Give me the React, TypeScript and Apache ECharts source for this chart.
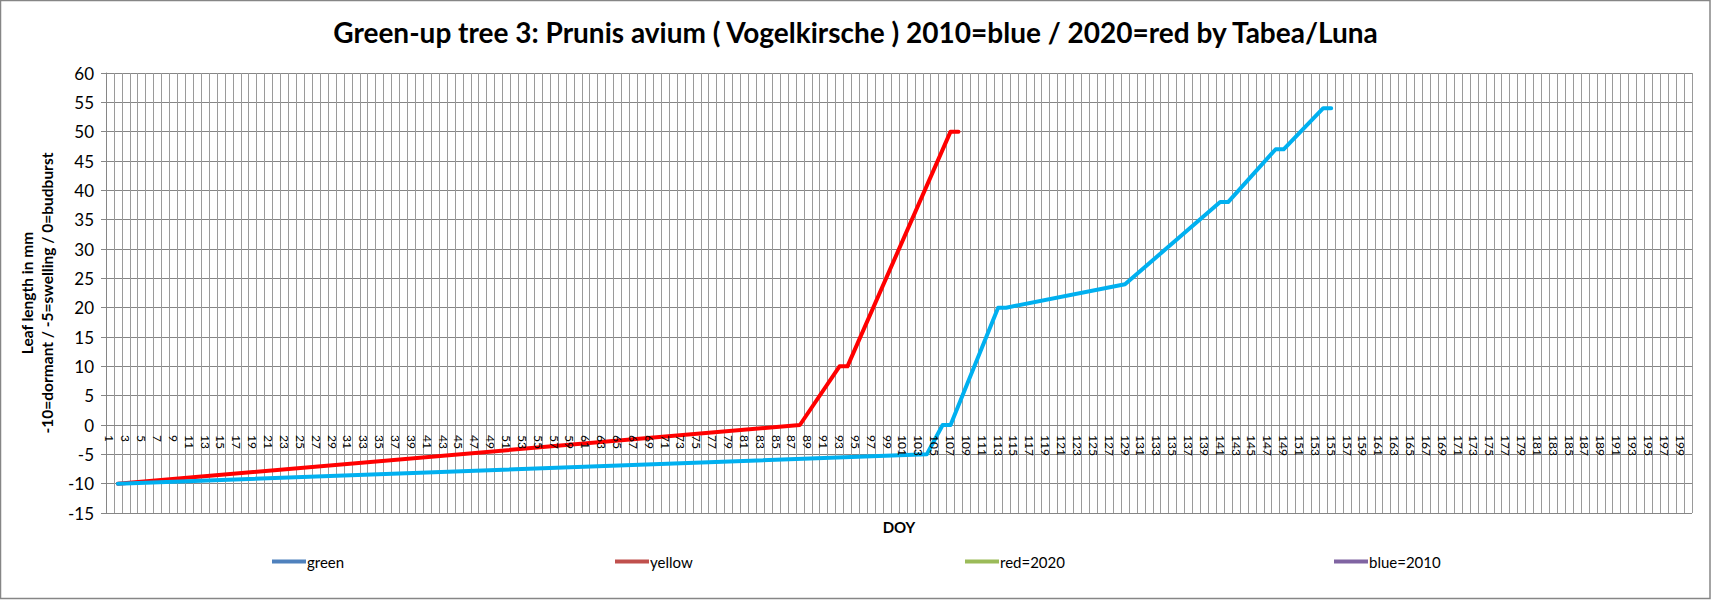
import React, { useEffect, useRef } from "react";
import * as echarts from "echarts";

const FONT = "Lato, 'Liberation Sans', sans-serif";
const NARROW_FONT = "'Liberation Sans Narrow', Lato, sans-serif";

const titleText =
  "Green-up tree 3: Prunis avium ( Vogelkirsche ) 2010=blue / 2020=red by Tabea/Luna";
const yAxisName = "Leaf length in mm\n-10=dormant / -5=swelling / 0=budburst";
const xAxisName = "DOY";

// DOY categories 1..200
const dayCount = 200;
const days: string[] = Array.from({ length: dayCount }, (_, i) => String(i + 1));

// 2020 (red)
const redDays = [2, 88, 93, 94, 107, 108];
const redValues = [-10, 0, 10, 10, 50, 50];

// 2010 (blue)
const blueDays = [2, 104, 106, 107, 113, 114, 129, 141, 142, 148, 149, 154, 155];
const blueValues = [-10, -5, 0, 0, 20, 20, 24, 38, 38, 47, 47, 54, 54];

const yMin = -15;
const yMax = 60;
const yStep = 5;

const legendNames = ["green", "yellow", "red=2020", "blue=2010"];
const legendColors = ["#4F81BD", "#C0504D", "#9BBB59", "#8064A2"];
const legendLefts = [272, 615, 965, 1334];

const GRID_TOP = 73;
const GRID_BOTTOM = 87;
const CHART_H = 600;

function toSeries(dayList: number[], values: number[]): (number | null)[] {
  const out: (number | null)[] = days.map(() => null);
  dayList.forEach((d, i) => {
    out[d - 1] = values[i];
  });
  return out;
}

export default function App() {
  const ref = useRef<HTMLDivElement>(null);

  useEffect(() => {
    document.body.style.margin = "0";
    if (!ref.current) return;
    const chart = echarts.init(ref.current, null, { renderer: "svg" });

    // distance from plot bottom to the y=0 line, so the category axis sits on zero
    const plotH = CHART_H - GRID_TOP - GRID_BOTTOM;
    const zeroOffset = (plotH * (0 - yMin)) / (yMax - yMin);

    const legendSeries = legendNames.map((n, i) => ({
      name: n,
      type: "line",
      data: [],
      symbol: "none",
      itemStyle: { color: legendColors[i] },
      lineStyle: { color: legendColors[i], width: 3 },
    }));

    chart.setOption({
      animation: false,
      backgroundColor: "#ffffff",
      textStyle: { fontFamily: FONT },
      title: {
        text: titleText,
        left: "center",
        top: 13,
        textStyle: { fontSize: 28, fontWeight: "bold", color: "#000", fontFamily: FONT },
      },
      graphic: [
        {
          type: "rect",
          shape: { x: 0.5, y: 0.5, width: 1709.5, height: 598 },
          style: { fill: "none", stroke: "#868686", lineWidth: 1.5 },
          silent: true,
        },
      ],
      legend: legendNames.map((n, i) => ({
        data: [n],
        left: legendLefts[i],
        top: 554,
        padding: 0,
        icon: "rect",
        itemWidth: 34,
        itemHeight: 4,
        itemGap: 0,
        selectedMode: false,
        textStyle: { fontSize: 15, color: "#000", fontFamily: FONT, padding: [0, 0, 0, -4] },
      })),
      grid: {
        left: 106,
        right: 19,
        top: GRID_TOP,
        bottom: GRID_BOTTOM,
        containLabel: false,
        outerBoundsMode: "none",
      },
      xAxis: [
        {
          type: "category",
          data: days,
          boundaryGap: true,
          position: "bottom",
          offset: -zeroOffset,
          name: xAxisName,
          nameLocation: "middle",
          nameGap: 94,
          nameTextStyle: { fontSize: 15, fontWeight: "bold", color: "#000", fontFamily: FONT },
          axisLine: { onZero: false, lineStyle: { color: "#868686", width: 1 } },
          axisTick: { show: false },
          axisLabel: { show: false },
          splitLine: { show: true, interval: 0, lineStyle: { color: "#9a9a9a", width: 1 } },
        },
        {
          type: "category",
          data: days,
          boundaryGap: true,
          position: "bottom",
          offset: -zeroOffset,
          z: 5,
          axisLine: { show: false, onZero: false },
          axisTick: { show: false },
          splitLine: { show: false },
          axisLabel: {
            interval: 1,
            rotate: -90,
            fontSize: 12,
            margin: 10,
            color: "#000",
            fontFamily: NARROW_FONT,
          },
        },
      ],
      yAxis: {
        type: "value",
        min: yMin,
        max: yMax,
        interval: yStep,
        name: yAxisName,
        nameLocation: "middle",
        nameGap: 36,
        nameTextStyle: {
          fontSize: 15.5,
          fontWeight: "bold",
          color: "#000",
          lineHeight: 20,
          fontFamily: FONT,
        },
        axisLine: { show: true, lineStyle: { color: "#868686", width: 1 } },
        axisTick: { show: true, length: 5, lineStyle: { color: "#868686" } },
        axisLabel: { fontSize: 17, margin: 12, color: "#000", fontFamily: FONT },
        splitLine: { show: true, lineStyle: { color: "#868686", width: 1 } },
      },
      series: [
        ...legendSeries,
        {
          name: "2020",
          type: "line",
          xAxisIndex: 0,
          data: toSeries(redDays, redValues),
          connectNulls: true,
          symbol: "none",
          showSymbol: false,
          lineStyle: { color: "#FF0000", width: 4, cap: "round", join: "round" },
          itemStyle: { color: "#FF0000" },
        },
        {
          name: "2010",
          type: "line",
          xAxisIndex: 0,
          data: toSeries(blueDays, blueValues),
          connectNulls: true,
          symbol: "none",
          showSymbol: false,
          lineStyle: { color: "#00B0F0", width: 4, cap: "round", join: "round" },
          itemStyle: { color: "#00B0F0" },
        },
      ],
    });

    return () => {
      chart.dispose();
    };
  }, []);

  return <div ref={ref} style={{ width: 1711, height: 600 }} />;
}
